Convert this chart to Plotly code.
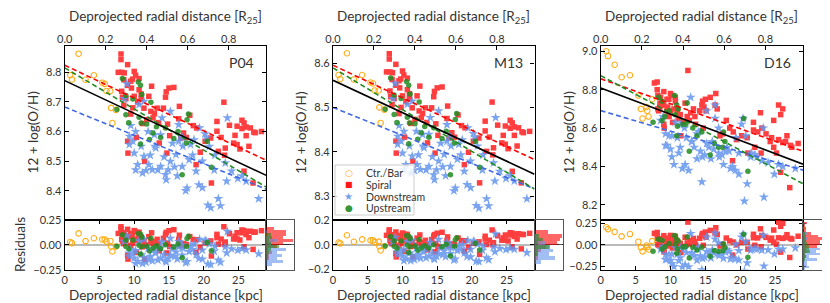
import numpy as np
import plotly.graph_objects as go

# ---------------- data ----------------
calibs = ["P04", "M13", "D16"]

# Ctr./Bar regions
ctr_r   = [0.8, 1.05, 2.0, 3.0, 4.2, 5.4, 5.76, 6.0, 6.57, 6.67, 6.86, 7.38]
ctr_p04 = [8.790, 8.776, 8.863, 8.775, 8.790, 8.765, 8.761, 8.737, 8.737, 8.680, 8.629, 8.673]
ctr_m13 = [8.573, 8.564, 8.622, 8.563, 8.573, 8.556, 8.554, 8.538, 8.538, 8.500, 8.465, 8.495]
ctr_d16 = [9.000, 8.975, 8.930, 8.865, 8.875, 8.770, 8.700, 8.650, 8.710, 8.690, 8.660, 8.750]

# Spiral regions
spi_r = [8.1, 8.1, 9.05, 7.7, 8.2, 8.57, 10.0, 10.2, 10.7, 8.5, 9.76, 9.05, 9.6, 10.7, 11.0, 12.5,
         8.2, 8.3, 8.8, 10.0, 11.0, 12.1, 14.5, 14.6, 15.0, 15.7, 8.5, 9.5, 11.4, 12.4, 13.3, 14.2,
         12.7, 16.5, 18.0, 16.4, 14.8, 11.2, 9.05, 9.1, 11.5, 13.6, 14.7, 15.1, 16.7, 19.0, 17.1, 20.2,
         21.0, 21.9, 22.9, 21.9, 18.9, 21.1, 23.7, 24.8, 24.5, 24.3, 25.5, 25.8, 26.1, 25.5, 26.7, 27.2,
         27.4, 26.1, 24.8, 25.2, 25.8, 27.1, 22.1, 23.1,
         9.5, 10.5, 9.8, 11.8, 12.9, 13.5, 10.3, 18.5, 17.5, 19.5, 22.5, 23.0, 26.5, 28.3]
spi_p04 = [8.862, 8.843, 8.826, 8.800, 8.800, 8.798, 8.803, 8.790, 8.779, 8.775, 8.777, 8.756, 8.747, 8.741, 8.727, 8.753,
           8.736, 8.716, 8.711, 8.719, 8.711, 8.719, 8.716, 8.734, 8.747, 8.749, 8.689, 8.659, 8.679, 8.668, 8.679, 8.679,
           8.646, 8.685, 8.655, 8.643, 8.625, 8.627, 8.567, 8.527, 8.499, 8.561, 8.527, 8.586, 8.578, 8.612, 8.595, 8.567,
           8.578, 8.634, 8.699, 8.601, 8.488, 8.426, 8.621, 8.618, 8.587, 8.561, 8.638, 8.629, 8.615, 8.610, 8.612, 8.598,
           8.596, 8.586, 8.556, 8.541, 8.466, 8.426, 8.533, 8.544,
           8.770, 8.700, 8.680, 8.640, 8.660, 8.630, 8.580, 8.620, 8.580, 8.530, 8.580, 8.520, 8.550, 8.600]
spi_m13 = [8.621, 8.609, 8.597, 8.580, 8.580, 8.578, 8.582, 8.573, 8.566, 8.563, 8.564, 8.550, 8.544, 8.540, 8.531, 8.548,
           8.537, 8.524, 8.520, 8.526, 8.520, 8.526, 8.524, 8.536, 8.544, 8.546, 8.506, 8.486, 8.499, 8.492, 8.499, 8.499,
           8.477, 8.503, 8.483, 8.475, 8.463, 8.464, 8.424, 8.397, 8.379, 8.420, 8.397, 8.437, 8.431, 8.454, 8.443, 8.424,
           8.431, 8.469, 8.512, 8.447, 8.371, 8.330, 8.460, 8.458, 8.437, 8.420, 8.471, 8.465, 8.456, 8.453, 8.454, 8.445,
           8.443, 8.437, 8.417, 8.407, 8.356, 8.330, 8.401, 8.409,
           8.560, 8.513, 8.500, 8.473, 8.486, 8.466, 8.433, 8.459, 8.433, 8.399, 8.433, 8.393, 8.413, 8.446]
spi_d16 = [8.840, 8.800, 8.790, 8.835, 8.770, 8.760, 8.780, 8.770, 8.760, 8.730, 8.750, 8.720, 8.710, 8.740, 8.700, 8.900,
           8.700, 8.690, 8.720, 8.690, 8.680, 8.730, 8.720, 8.740, 8.750, 8.760, 8.710, 8.690, 8.670, 8.660, 8.700, 8.690,
           8.640, 8.780, 8.640, 8.720, 8.710, 8.650, 8.620, 8.600, 8.560, 8.620, 8.600, 8.690, 8.700, 8.580, 8.560, 8.560,
           8.550, 8.630, 8.680, 8.590, 8.430, 8.470, 8.570, 8.640, 8.550, 8.530, 8.720, 8.670, 8.700, 8.540, 8.560, 8.510,
           8.500, 8.525, 8.500, 8.470, 8.370, 8.290, 8.500, 8.600,
           8.750, 8.700, 8.660, 8.630, 8.680, 8.660, 8.630, 8.600, 8.570, 8.540, 8.580, 8.470, 8.530, 8.520]

# Downstream regions
dwn_r = [8.95, 8.6, 10.7, 11.4, 9.3, 9.8, 9.3, 10.0, 10.5, 11.4, 11.7, 12.1, 12.6, 12.9, 13.1, 13.8,
         13.8, 14.5, 14.6, 15.2, 16.0, 16.4, 16.9, 17.9, 17.6, 17.4, 18.1, 18.6, 18.9, 19.3, 20.4, 20.6,
         21.0, 22.4, 22.1, 23.1, 24.0, 23.4, 15.2, 14.0, 16.4, 19.4, 20.2, 23.3, 24.9, 26.1, 27.9, 14.3,
         11.0, 12.0, 15.5, 17.0, 10.2, 14.9, 19.8, 21.5, 16.2, 9.5,
         10.2, 11.2, 12.3, 13.4, 15.8, 16.9, 18.4, 20.8, 21.6, 25.5, 19.8, 13.0]
dwn_p04 = [8.761, 8.711, 8.691, 8.702, 8.584, 8.567, 8.556, 8.527, 8.488, 8.516, 8.468, 8.488, 8.471, 8.589, 8.544, 8.589,
           8.482, 8.454, 8.437, 8.499, 8.522, 8.567, 8.482, 8.505, 8.409, 8.400, 8.556, 8.572, 8.466, 8.420, 8.580, 8.351,
           8.342, 8.349, 8.373, 8.494, 8.466, 8.646, 8.668, 8.646, 8.623, 8.612, 8.592, 8.432, 8.441, 8.432, 8.373, 8.514,
           8.550, 8.600, 8.560, 8.550, 8.600, 8.470, 8.500, 8.470, 8.450, 8.620,
           8.470, 8.460, 8.520, 8.470, 8.480, 8.580, 8.520, 8.550, 8.520, 8.450, 8.410, 8.550]
dwn_m13 = [8.554, 8.520, 8.507, 8.514, 8.435, 8.424, 8.417, 8.397, 8.371, 8.390, 8.358, 8.371, 8.360, 8.439, 8.409, 8.439,
           8.367, 8.348, 8.337, 8.379, 8.394, 8.424, 8.367, 8.383, 8.318, 8.312, 8.417, 8.427, 8.356, 8.326, 8.433, 8.279,
           8.273, 8.278, 8.294, 8.375, 8.356, 8.477, 8.492, 8.477, 8.461, 8.454, 8.441, 8.334, 8.340, 8.334, 8.294, 8.389,
           8.413, 8.446, 8.419, 8.413, 8.446, 8.359, 8.379, 8.359, 8.346, 8.459,
           8.359, 8.352, 8.393, 8.359, 8.366, 8.433, 8.393, 8.413, 8.393, 8.346, 8.319, 8.413]
dwn_d16 = [8.660, 8.640, 8.630, 8.620, 8.570, 8.560, 8.510, 8.490, 8.410, 8.500, 8.390, 8.410, 8.380, 8.760, 8.530, 8.570,
           8.440, 8.320, 8.450, 8.520, 8.530, 8.720, 8.470, 8.480, 8.410, 8.460, 8.500, 8.390, 8.400, 8.380, 8.650, 8.220,
           8.310, 8.450, 8.460, 8.430, 8.420, 8.240, 8.690, 8.580, 8.650, 8.550, 8.620, 8.600, 8.360, 8.400, 8.390, 8.480,
           8.550, 8.600, 8.500, 8.450, 8.560, 8.460, 8.470, 8.450, 8.490, 8.510,
           8.450, 8.470, 8.550, 8.500, 8.440, 8.600, 8.480, 8.560, 8.470, 8.410, 8.360, 8.530]

# Upstream regions
ups_r = [8.3, 10.6, 10.9, 11.1, 8.8, 7.5, 8.8, 10.7, 11.0, 11.8, 12.7, 12.4, 12.2, 10.9, 13.2, 15.7,
         17.8, 17.6, 17.5, 20.5, 21.1, 16.9, 14.5, 9.8, 13.8, 16.3, 9.2]
ups_p04 = [8.779, 8.767, 8.756, 8.725, 8.722, 8.674, 8.657, 8.648, 8.629, 8.625, 8.595, 8.699, 8.573, 8.558, 8.616, 8.576,
           8.659, 8.640, 8.561, 8.567, 8.479, 8.454, 8.612, 8.710, 8.580, 8.600, 8.630]
ups_m13 = [8.566, 8.558, 8.550, 8.530, 8.528, 8.496, 8.484, 8.478, 8.465, 8.463, 8.443, 8.512, 8.428, 8.418, 8.457, 8.430,
           8.486, 8.473, 8.420, 8.424, 8.365, 8.348, 8.454, 8.520, 8.433, 8.446, 8.466]
ups_d16 = [8.760, 8.770, 8.720, 8.700, 8.740, 8.630, 8.640, 8.670, 8.610, 8.620, 8.480, 8.730, 8.620, 8.560, 8.600, 8.460,
           8.530, 8.580, 8.500, 8.650, 8.375, 8.500, 8.580, 8.690, 8.560, 8.520, 8.660]

# linear fits: intercept [dex], slope [dex/kpc]  (all, spiral, downstream, upstream)
fit_all_a = [8.772, 8.561, 8.809]
fit_all_b = [-0.01104, -0.00729, -0.01368]
fit_spi_a = [8.824, 8.595, 8.857]
fit_spi_b = [-0.01108, -0.00733, -0.01302]
fit_dwn_a = [8.683, 8.500, 8.691]
fit_dwn_b = [-0.00958, -0.00632, -0.01069]
fit_ups_a = [8.815, 8.589, 8.873]
fit_ups_b = [-0.01389, -0.00941, -0.01941]

# axis settings
y_ranges   = [[8.302, 8.89], [8.247, 8.639], [8.123, 9.029]]
y_dticks   = [0.1, 0.1, 0.2]
res_ranges = [[-0.2505, 0.2505], [-0.2005, 0.2005], [-0.29, 0.29]]
res_ticks  = [[-0.25, 0.0, 0.25], [-0.2, 0.0, 0.2], [-0.25, 0.0, 0.25]]
res_fmt    = [".2f", ".1f", ".2f"]
kpc_range  = [0, 29.0]
r25_per_kpc = 1 / 29.5
kpc_ticks = [0, 5, 10, 15, 20, 25]
r25_ticks = [0.0, 0.2, 0.4, 0.6, 0.8]

legend_names  = ["Ctr./Bar", "Spiral", "Downstream", "Upstream"]
legend_glyphs = ["○", "■", "★", "●"]

# ---------------- figure ----------------
W, H = 830, 303
FONT = "Lato"
SYMFONT = "DejaVu Sans"
TXT = "#333333"

main_x = [(56.7, 258.3), (325.0, 526.5), (592.7, 795.0)]
hist_w = 28.0
main_y = (37.7, 211.7)
res_y = (211.7, 261.7)

def px_x(a):
    return a / W

def px_y(a):
    return 1 - a / H

groups = [
    dict(name="Ctr./Bar", r=ctr_r, vals=[ctr_p04, ctr_m13, ctr_d16], color="#FFA500",
         marker=dict(symbol="circle-open", size=5.5, color="#FFA500", line=dict(width=1.1)), opacity=0.9),
    dict(name="Spiral", r=spi_r, vals=[spi_p04, spi_m13, spi_d16], color="#FF0000",
         marker=dict(symbol="square", size=5.5, color="#FF0000"), opacity=0.75),
    dict(name="Downstream", r=dwn_r, vals=[dwn_p04, dwn_m13, dwn_d16], color="#6495ED",
         marker=dict(symbol="star", size=7.5, color="#6495ED"), opacity=0.85),
    dict(name="Upstream", r=ups_r, vals=[ups_p04, ups_m13, ups_d16], color="#228B22",
         marker=dict(symbol="circle", size=5.5, color="#228B22"), opacity=0.85),
]

fig = go.Figure()
layout = {}
annotations = []
shapes = []

def xn(n):
    return "x" if n == 1 else f"x{n}"

def yn(n):
    return "y" if n == 1 else f"y{n}"

def xkey(n):
    return "xaxis" if n == 1 else f"xaxis{n}"

def ykey(n):
    return "yaxis" if n == 1 else f"yaxis{n}"

tickfont = dict(family=FONT, size=11, color=TXT)
line_x = np.array(kpc_range)

for i, cal in enumerate(calibs):
    nm, nr, nh, nt = 4 * i + 1, 4 * i + 2, 4 * i + 3, 4 * i + 4
    x0, x1 = main_x[i]
    dom_main = [px_x(x0), px_x(x1)]
    dom_hist = [px_x(x1), px_x(x1 + hist_w)]
    dom_my = [px_y(main_y[1]), px_y(main_y[0])]
    dom_ry = [px_y(res_y[1]), px_y(res_y[0])]
    a_all, b_all = fit_all_a[i], fit_all_b[i]

    for g in groups:
        r = np.array(g["r"])
        v = np.array(g["vals"][i])
        res = v - (a_all + b_all * r)
        fig.add_trace(go.Scatter(x=r, y=v, mode="markers", marker=g["marker"], opacity=g["opacity"],
                                 name=g["name"], showlegend=False,
                                 xaxis=xn(nm), yaxis=yn(nm), hoverinfo="skip"))
        fig.add_trace(go.Scatter(x=r, y=res, mode="markers", marker=g["marker"], opacity=g["opacity"],
                                 showlegend=False, xaxis=xn(nr), yaxis=yn(nr), hoverinfo="skip",
                                 cliponaxis=True))
        fig.add_trace(go.Histogram(y=res, orientation="h", marker=dict(color=g["color"]),
                                   opacity=0.6, ybins=dict(start=-0.3, end=0.3, size=0.03),
                                   showlegend=False, xaxis=xn(nh), yaxis=yn(nh), hoverinfo="skip"))

    # fit lines
    for a, b, col, dash in [(fit_spi_a[i], fit_spi_b[i], "#FF0000", "5px,3px"),
                            (fit_dwn_a[i], fit_dwn_b[i], "#4169E1", "5px,3px"),
                            (fit_ups_a[i], fit_ups_b[i], "#228B22", "5px,3px"),
                            (a_all, b_all, "black", "solid")]:
        fig.add_trace(go.Scatter(x=line_x, y=a + b * line_x, mode="lines",
                                 line=dict(color=col, width=1.6, dash=dash),
                                 showlegend=False, xaxis=xn(nm), yaxis=yn(nm), hoverinfo="skip"))

    # dummy trace to create the top R25 axis
    fig.add_trace(go.Scatter(x=[r25_ticks[0]], y=[None], mode="markers", showlegend=False,
                             xaxis=xn(nt), yaxis=yn(nm), hoverinfo="skip"))

    frame = dict(showline=True, linecolor="black", linewidth=1.2, mirror=True)
    layout[xkey(nm)] = dict(domain=dom_main, range=kpc_range, anchor=yn(nm), showticklabels=False,
                            ticks="", showgrid=False, zeroline=False, automargin=False, **frame)
    layout[ykey(nm)] = dict(domain=dom_my, range=y_ranges[i], anchor=xn(nm), dtick=y_dticks[i],
                            tickformat=".1f", ticks="inside", ticklen=4, tickcolor="black",
                            showgrid=False, zeroline=False, tickfont=tickfont, automargin=False,
                            showline=True, linecolor="black", linewidth=1.2, mirror="ticks")
    layout[xkey(nt)] = dict(overlaying=xn(nm), anchor=yn(nm), side="top",
                            range=[kpc_range[0] * r25_per_kpc, kpc_range[1] * r25_per_kpc],
                            tickvals=r25_ticks, tickformat=".1f", ticks="inside", ticklen=4,
                            tickcolor="black", showgrid=False, zeroline=False, showline=False,
                            tickfont=tickfont, automargin=False)
    layout[xkey(nr)] = dict(domain=dom_main, range=kpc_range, anchor=yn(nr), tickvals=kpc_ticks,
                            ticks="inside", ticklen=4, tickcolor="black", showgrid=False,
                            zeroline=False, tickfont=tickfont, automargin=False,
                            showline=True, linecolor="black", linewidth=1.2, mirror="ticks")
    layout[ykey(nr)] = dict(domain=dom_ry, range=res_ranges[i], anchor=xn(nr), tickvals=res_ticks[i],
                            tickformat=res_fmt[i], ticks="inside", ticklen=4, tickcolor="black",
                            showgrid=False, zeroline=True, zerolinecolor="#BBBBBB", zerolinewidth=1.5,
                            tickfont=tickfont, showline=True, linecolor="black", linewidth=1.2,
                            mirror="ticks", automargin=False)
    layout[xkey(nh)] = dict(domain=dom_hist, anchor=yn(nh), showticklabels=False, ticks="",
                            showgrid=False, zeroline=False, showline=True, linecolor="#555555",
                            linewidth=1.2, mirror=True, rangemode="tozero", automargin=False)
    layout[ykey(nh)] = dict(domain=dom_ry, range=res_ranges[i], anchor=xn(nh), tickvals=res_ticks[i],
                            showticklabels=False, ticks="inside", ticklen=3, tickcolor="#555555",
                            showgrid=False, zeroline=True, zerolinecolor="#333333", zerolinewidth=1,
                            showline=True, linecolor="#555555", linewidth=1.2, mirror="ticks",
                            automargin=False)

    cx = (x0 + x1) / 2
    annotations += [
        dict(text="Deprojected radial distance [R<sub>25</sub>]", x=px_x(cx), y=px_y(9),
             xref="paper", yref="paper", showarrow=False, font=dict(family=FONT, size=13.5, color=TXT),
             xanchor="center", yanchor="middle"),
        dict(text="Deprojected radial distance [kpc]", x=px_x(cx), y=px_y(287),
             xref="paper", yref="paper", showarrow=False, font=dict(family=FONT, size=13.5, color=TXT),
             xanchor="center", yanchor="middle"),
        dict(text="12 + log(O/H)", x=px_x(x0 - 32), y=px_y((main_y[0] + main_y[1]) / 2),
             xref="paper", yref="paper", showarrow=False, textangle=-90,
             font=dict(family=FONT, size=13.5, color=TXT), xanchor="center", yanchor="middle"),
        dict(text=cal, x=px_x(x1 - 10), y=px_y(55), xref="paper", yref="paper", showarrow=False,
             font=dict(family=FONT, size=14, color=TXT), xanchor="right", yanchor="middle"),
    ]

annotations.append(dict(text="Residuals", x=px_x(12), y=px_y(237), xref="paper", yref="paper",
                        showarrow=False, textangle=-90, font=dict(family=FONT, size=13.5, color=TXT),
                        xanchor="center", yanchor="middle"))

# compact legend in the middle panel (box + glyph + label)
leg_x0, leg_y0, leg_x1, leg_y1 = 327.0, 157.0, 406.0, 207.0
shapes.append(dict(type="rect", xref="paper", yref="paper",
                   x0=px_x(leg_x0), x1=px_x(leg_x1), y0=px_y(leg_y1), y1=px_y(leg_y0),
                   fillcolor="rgba(255,255,255,0.82)", line=dict(color="#CCCCCC", width=1),
                   layer="above"))
for k, g in enumerate(groups):
    yy = 165.3 + 11.6 * k
    gsize = {0: 9, 1: 8, 2: 10, 3: 9}[k]
    annotations.append(dict(text=legend_glyphs[k], x=px_x(340.7), y=px_y(yy), xref="paper", yref="paper",
                            showarrow=False, font=dict(family=SYMFONT, size=gsize, color=g["color"]),
                            xanchor="center", yanchor="middle", opacity=0.9))
    annotations.append(dict(text=legend_names[k], x=px_x(356.0), y=px_y(yy), xref="paper", yref="paper",
                            showarrow=False, font=dict(family=FONT, size=10.5, color=TXT),
                            xanchor="left", yanchor="middle"))

fig.update_layout(
    width=W, height=H, margin=dict(l=0, r=0, t=0, b=0, autoexpand=False),
    paper_bgcolor="white", plot_bgcolor="white",
    barmode="overlay", bargap=0,
    font=dict(family=FONT, color=TXT),
    annotations=annotations, shapes=shapes,
    showlegend=False,
    **layout,
)

fig.write_html("out.html")
